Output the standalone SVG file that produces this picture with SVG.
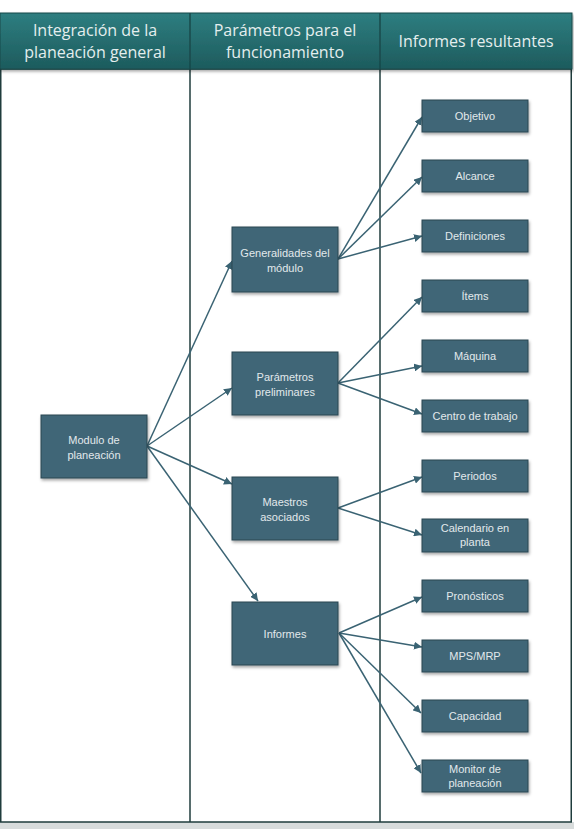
<svg xmlns="http://www.w3.org/2000/svg" width="574" height="829" viewBox="0 0 574 829">
<defs>
<linearGradient id="hg" x1="0" y1="0" x2="0" y2="1">
<stop offset="0" stop-color="#2e7e80"/>
<stop offset="1" stop-color="#1d5b5d"/>
</linearGradient>
<filter id="sh" x="-10%" y="-10%" width="130%" height="140%">
<feDropShadow dx="1" dy="2" stdDeviation="1.5" flood-color="#000" flood-opacity="0.35"/>
</filter>
<marker id="ar" viewBox="0 0 10 10" refX="10" refY="5" markerWidth="8" markerHeight="8" markerUnits="userSpaceOnUse" orient="auto">
<path d="M0,0 L10,5 L0,10 z" fill="#3a6373"/>
</marker>
<style>
.node rect{fill:#3f6677;stroke:#2b4653;stroke-width:1;filter:url(#sh)}
.node text{font-family:"Liberation Sans",Arial,sans-serif;font-size:11px;fill:#e2e9ec;text-anchor:middle}
.hdr{font-family:"Open Sans","Liberation Sans",sans-serif;font-size:16px;fill:#e4eeee;text-anchor:middle}
.conn line{stroke:#3a6373;stroke-width:1.5;marker-end:url(#ar)}
.frame{fill:none;stroke:#1f3c3c;stroke-width:1.5}
</style>
</defs>
<rect x="0" y="0" width="574" height="829" fill="#ffffff"/>
<rect x="0" y="822" width="574" height="7" fill="#d8dcdc"/>
<g id="frame">
<rect x="0.75" y="69" width="570.5" height="753" class="frame"/>
<line x1="190" y1="69" x2="190" y2="822" class="frame"/>
<line x1="380" y1="69" x2="380" y2="822" class="frame"/>
</g>
<g id="header" filter="url(#sh)">
<rect x="0" y="13" width="572" height="56" fill="url(#hg)" stroke="#184a4b" stroke-width="1"/>
<line x1="190" y1="13" x2="190" y2="69" stroke="#184a4b" stroke-width="1.5"/>
<line x1="380" y1="13" x2="380" y2="69" stroke="#184a4b" stroke-width="1.5"/>
</g>
<text class="hdr" x="95" y="36">Integración de la</text>
<text class="hdr" x="95" y="58">planeación general</text>
<text class="hdr" x="285" y="36">Parámetros para el</text>
<text class="hdr" x="285" y="58">funcionamiento</text>
<text class="hdr" x="476" y="47">Informes resultantes</text>

<g id="connectors" class="conn">
<line x1="147" y1="446" x2="232" y2="261"/>
<line x1="147" y1="446" x2="232" y2="388"/>
<line x1="147" y1="446" x2="232" y2="484"/>
<line x1="147" y1="446" x2="258" y2="601"/>
<line x1="338" y1="259" x2="422" y2="117"/>
<line x1="338" y1="259" x2="422" y2="177"/>
<line x1="338" y1="259" x2="422" y2="236"/>
<line x1="338" y1="383" x2="422" y2="297"/>
<line x1="338" y1="383" x2="422" y2="366"/>
<line x1="338" y1="383" x2="422" y2="414"/>
<line x1="338" y1="508" x2="422" y2="477"/>
<line x1="338" y1="508" x2="422" y2="535"/>
<line x1="339" y1="633" x2="422" y2="597"/>
<line x1="339" y1="633" x2="422" y2="647"/>
<line x1="339" y1="633" x2="421" y2="713"/>
<line x1="339" y1="633" x2="421" y2="773"/>
</g>

<g id="n-modulo" class="node"><rect x="41" y="415" width="106" height="63"/><text x="94" y="444">Modulo de</text><text x="94" y="459">planeación</text></g>
<g id="n-generalidades" class="node"><rect x="232" y="227" width="106" height="65"/><text x="285" y="257">Generalidades del</text><text x="285" y="272">módulo</text></g>
<g id="n-parametros" class="node"><rect x="232" y="352" width="106" height="63"/><text x="285" y="381">Parámetros</text><text x="285" y="396">preliminares</text></g>
<g id="n-maestros" class="node"><rect x="232" y="477" width="106" height="63"/><text x="285" y="506">Maestros</text><text x="285" y="521">asociados</text></g>
<g id="n-informes" class="node"><rect x="232" y="602" width="106" height="63"/><text x="285" y="638">Informes</text></g>

<g id="n-objetivo" class="node"><rect x="422" y="100" width="106" height="32"/><text x="475" y="120">Objetivo</text></g>
<g id="n-alcance" class="node"><rect x="422" y="160" width="106" height="32"/><text x="475" y="180">Alcance</text></g>
<g id="n-definiciones" class="node"><rect x="422" y="220" width="106" height="32"/><text x="475" y="240">Definiciones</text></g>
<g id="n-items" class="node"><rect x="422" y="280" width="106" height="32"/><text x="475" y="300">Ítems</text></g>
<g id="n-maquina" class="node"><rect x="422" y="340" width="106" height="32"/><text x="475" y="360">Máquina</text></g>
<g id="n-centro" class="node"><rect x="422" y="400" width="106" height="32"/><text x="475" y="420">Centro de trabajo</text></g>
<g id="n-periodos" class="node"><rect x="422" y="460" width="106" height="32"/><text x="475" y="480">Periodos</text></g>
<g id="n-calendario" class="node"><rect x="422" y="519" width="106" height="33"/><text x="475" y="532">Calendario en</text><text x="475" y="546">planta</text></g>
<g id="n-pronosticos" class="node"><rect x="422" y="580" width="106" height="32"/><text x="475" y="600">Pronósticos</text></g>
<g id="n-mps" class="node"><rect x="422" y="640" width="106" height="32"/><text x="475" y="660">MPS/MRP</text></g>
<g id="n-capacidad" class="node"><rect x="422" y="700" width="106" height="32"/><text x="475" y="720">Capacidad</text></g>
<g id="n-monitor" class="node"><rect x="422" y="760" width="106" height="32"/><text x="475" y="773">Monitor de</text><text x="475" y="787">planeación</text></g>
</svg>
